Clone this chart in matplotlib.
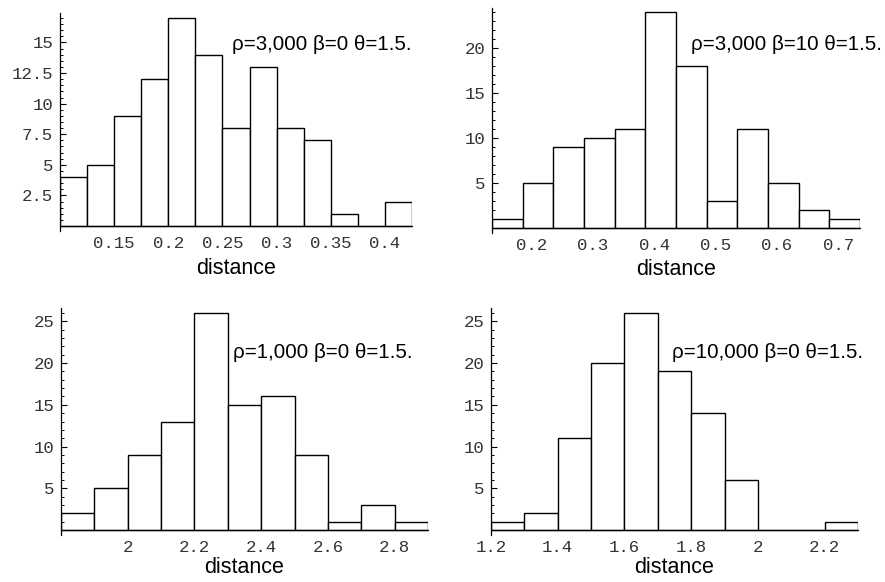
import numpy as np
import matplotlib
matplotlib.use("Agg")
import matplotlib.pyplot as plt
from matplotlib.ticker import MultipleLocator, FixedLocator

# counts per bin
counts_a = [4, 5, 9, 12, 17, 14, 8, 13, 8, 7, 1, 0, 2]
counts_b = [1, 5, 9, 10, 11, 24, 18, 3, 11, 5, 2, 1]
counts_c = [2, 5, 9, 13, 26, 15, 16, 9, 1, 3, 1]
counts_d = [1, 2, 11, 20, 26, 19, 14, 6, 0, 0, 1]

# bin start and width
bins_a = (0.1, 0.025)
bins_b = (0.1355, 0.05)
bins_c = (1.8, 0.1)
bins_d = (1.2, 0.1)

labels = ["\u03c1=3,000 \u03b2=0 \u03b8=1.5.",
          "\u03c1=3,000 \u03b2=10 \u03b8=1.5.",
          "\u03c1=1,000 \u03b2=0 \u03b8=1.5.",
          "\u03c1=10,000 \u03b2=0 \u03b8=1.5."]

xticks_a = [0.15, 0.2, 0.25, 0.3, 0.35, 0.4]
xticks_b = [0.2, 0.3, 0.4, 0.5, 0.6, 0.7]
xticks_c = [2, 2.2, 2.4, 2.6, 2.8]
xticks_d = [1.2, 1.4, 1.6, 1.8, 2, 2.2]

W, H = 885, 582
fig = plt.figure(figsize=(W / 100, H / 100), dpi=100)


def px_axes(left, right, top, bottom):
    return fig.add_axes([left / W, 1 - bottom / H, (right - left) / W, (bottom - top) / H])


def panel(ax, counts, bins, xticks, ymajor, yminor, ylim, label, lab_xy, lpad):
    start, width = bins
    edges = start + width * np.arange(len(counts))
    ax.bar(edges, counts, width=width, align="edge", color="white",
           edgecolor="black", linewidth=1.0)
    ax.set_xlim(start, start + width * len(counts))
    ax.set_ylim(*ylim)
    for s in ("top", "right"):
        ax.spines[s].set_visible(False)
    ax.spines["bottom"].set_position(("data", 0))
    ax.spines["left"].set_linewidth(0.9)
    ax.spines["bottom"].set_linewidth(0.9)
    ax.xaxis.set_major_locator(FixedLocator(xticks))
    ax.set_xticklabels([f"{v:g}" for v in xticks])
    yt = np.arange(ymajor, ylim[1], ymajor)
    ax.yaxis.set_major_locator(FixedLocator(yt))
    ax.set_yticklabels([f"{v:g}" for v in yt])
    ax.yaxis.set_minor_locator(MultipleLocator(yminor))
    ax.tick_params(axis="x", length=0, pad=7, labelsize=12.5, labelcolor="#333333")
    ax.tick_params(axis="y", which="major", direction="in", length=4, width=0.8,
                   pad=5, labelsize=12.5, labelcolor="#333333")
    ax.tick_params(axis="y", which="minor", direction="in", length=2.5, width=0.7)
    for t in ax.get_xticklabels() + ax.get_yticklabels():
        t.set_family("Liberation Mono")
    ax.set_xlabel("distance", fontsize=15.5, family="Liberation Sans", labelpad=lpad)
    ax.patch.set_alpha(0)
    fig.text(lab_xy[0] / W, 1 - lab_xy[1] / H, label, fontsize=14.8,
             family="Liberation Sans", va="center", ha="left")


ax1 = px_axes(60, 412, 13, 231)
panel(ax1, counts_a, bins_a, xticks_a, 2.5, 0.5, (-0.4, 17.4), labels[0], (232, 44), 5)

ax2 = px_axes(492, 860, 8, 233)
panel(ax2, counts_b, bins_b, xticks_b, 5, 1, (-0.5, 24.4), labels[1], (691, 45), 4)

ax3 = px_axes(61, 428, 308, 535)
panel(ax3, counts_c, bins_c, xticks_c, 5, 1, (-0.6, 26.6), labels[2], (233, 352), 2)

ax4 = px_axes(491, 858, 308, 535)
panel(ax4, counts_d, bins_d, xticks_d, 5, 1, (-0.6, 26.6), labels[3], (672, 352), 2)

fig.savefig("out.png", dpi=100)
